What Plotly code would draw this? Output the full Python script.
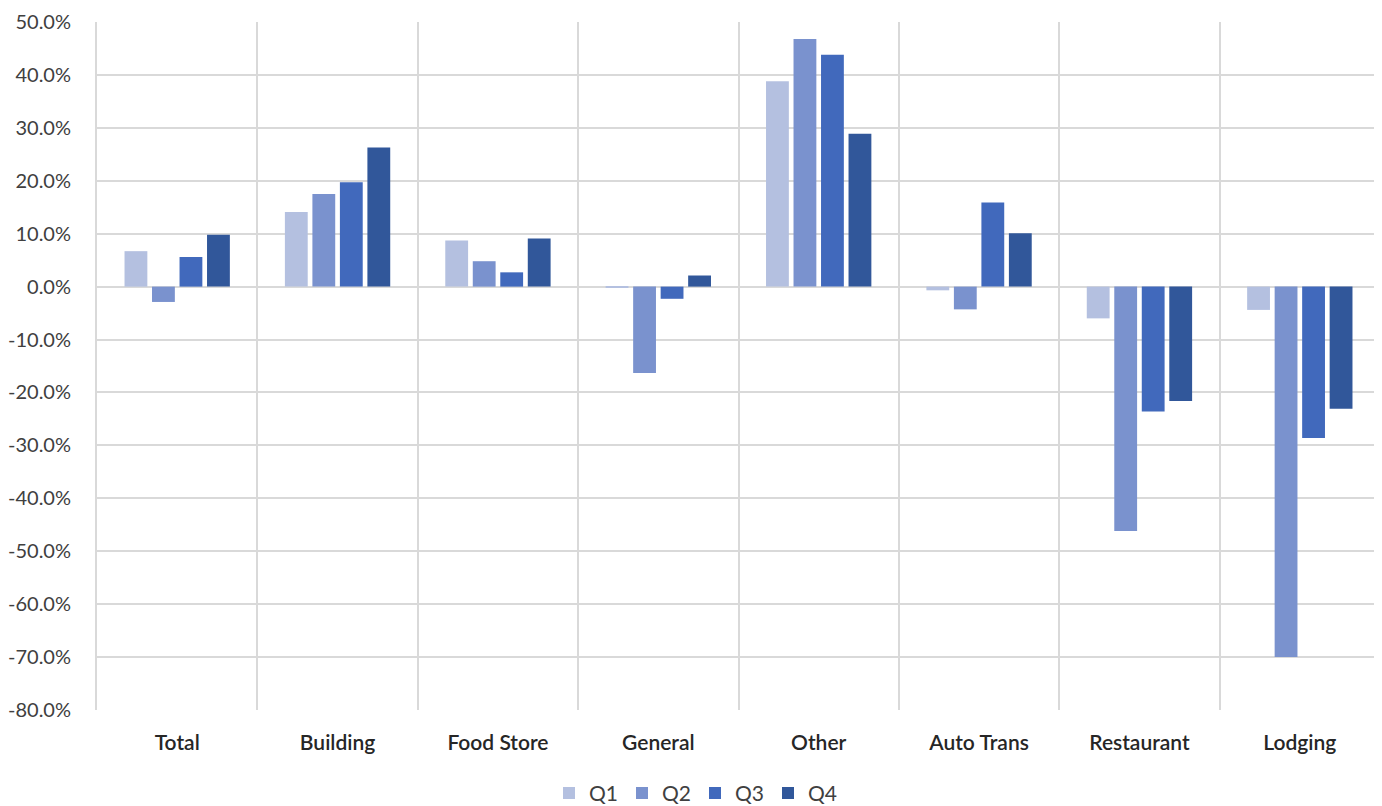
import plotly.graph_objects as go

categories = ["Total", "Building", "Food Store", "General", "Other", "Auto Trans", "Restaurant", "Lodging"]
series_names = ["Q1", "Q2", "Q3", "Q4"]
q1 = [6.7, 14.1, 8.7, -0.2, 38.8, -0.7, -6.0, -4.4]
q2 = [-2.9, 17.5, 4.8, -16.3, 46.8, -4.3, -46.2, -70.0]
q3 = [5.6, 19.7, 2.7, -2.3, 43.8, 15.9, -23.6, -28.6]
q4 = [9.8, 26.3, 9.1, 2.1, 28.9, 10.1, -21.6, -23.1]
colors = ["#B4C0E0", "#7A92CE", "#4169BC", "#31579A"]
y_ticks = list(range(-80, 51, 10))

fig = go.Figure()
for name, vals, col in zip(series_names, [q1, q2, q3, q4], colors):
    fig.add_trace(go.Bar(x=categories, y=vals, name=name, marker=dict(color=col, line=dict(width=0))))

# page body has an 8px margin, so the figure is sized/offset to put the plot area
# at the reference's pixel positions
fig.update_layout(
    width=1374, height=798,
    margin=dict(l=89, r=2, t=14, b=96, autoexpand=False),
    paper_bgcolor="white", plot_bgcolor="white",
    barmode="group", bargap=0.314, bargroupgap=0.17,
    font=dict(family="Lato", size=20, color="#404040"),
    legend=dict(orientation="h", x=0.5, xanchor="center", xref="container",
                y=0.016, yanchor="middle", yref="container",
                font=dict(size=21, color="#404040"), entrywidth=28, entrywidthmode="pixels",
                itemwidth=30, tracegroupgap=0),
    showlegend=True,
)
fig.update_xaxes(
    type="category", tickson="boundaries", showgrid=True, gridcolor="#D9D9D9", gridwidth=2,
    ticks="", tickfont=dict(size=21, color="#262626", weight=600), showline=False,
    ticklabelstandoff=18, automargin=False,
)
fig.update_yaxes(
    range=[-80, 50], tickvals=y_ticks, ticktext=[f"{v:.1f}%" for v in y_ticks],
    showgrid=True, gridcolor="#D9D9D9", gridwidth=2, zeroline=True, zerolinecolor="#D9D9D9", zerolinewidth=2,
    tickfont=dict(size=20, color="#404040"), ticks="",
    showline=True, mirror=True, linecolor="#D9D9D9", linewidth=2,
    ticklabelstandoff=20, automargin=False,
)
fig.write_html("out.html")
